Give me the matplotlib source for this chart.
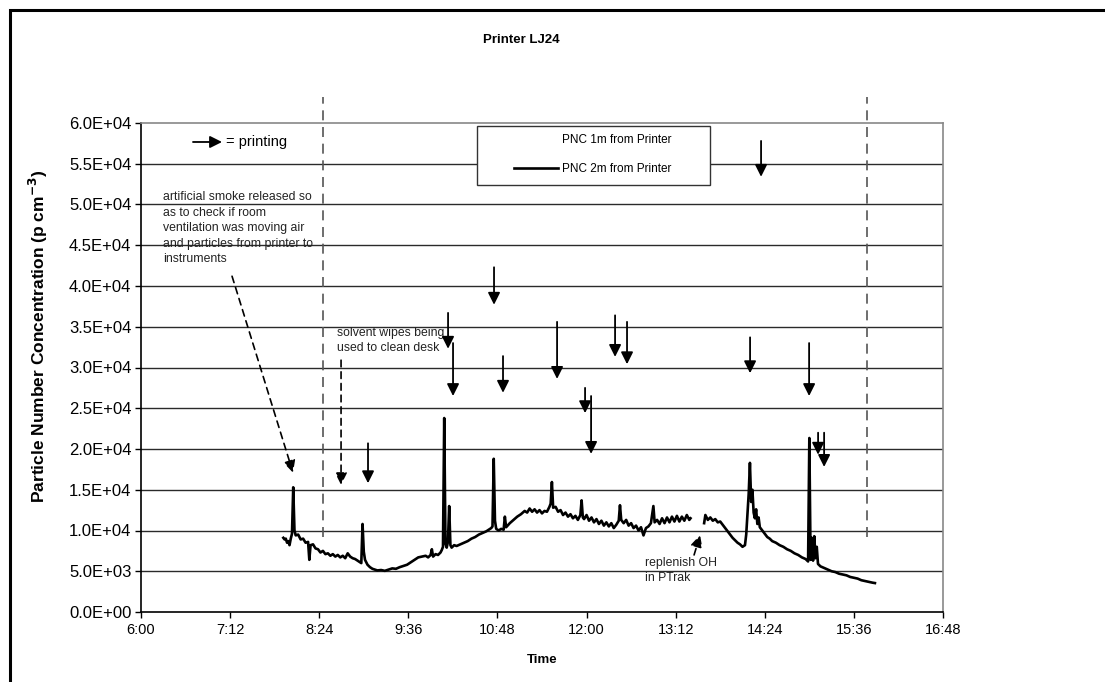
import numpy as np
import matplotlib
matplotlib.use("Agg")
import matplotlib.pyplot as plt
from matplotlib.patches import Rectangle
from matplotlib.ticker import FuncFormatter, FixedLocator

plt.rcParams['font.family'] = ['Liberation Sans', 'DejaVu Sans']

# PNC 2m from printer (time of day, particles per cm3)
pnc2_time = [
    "7:55", "7:56", "7:57", "7:58", "7:59", "8:00", "8:01", "8:02", "8:03", "8:04",
    "8:05", "8:07", "8:09", "8:11", "8:13", "8:15", "8:16", "8:17", "8:19", "8:21",
    "8:23", "8:25", "8:27", "8:29", "8:31", "8:33", "8:35", "8:37", "8:39", "8:41",
    "8:43", "8:45", "8:47", "8:49", "8:51", "8:53", "8:55", "8:57", "8:58", "8:59",
    "9:00", "9:01", "9:03", "9:05", "9:07", "9:09", "9:11", "9:14", "9:17", "9:20",
    "9:23", "9:26", "9:29", "9:32", "9:35", "9:38", "9:41", "9:44", "9:47", "9:50",
    "9:52", "9:54", "9:55", "9:56", "9:58", "10:00", "10:02", "10:03", "10:04", "10:05",
    "10:06", "10:07", "10:08", "10:09", "10:10", "10:11", "10:13", "10:15", "10:18", "10:21",
    "10:24", "10:27", "10:30", "10:33", "10:36", "10:39", "10:41", "10:43", "10:44", "10:45",
    "10:46", "10:47", "10:49", "10:51", "10:53", "10:54", "10:55", "10:58", "11:01", "11:04",
    "11:07", "11:10", "11:12", "11:14", "11:16", "11:18", "11:20", "11:22", "11:24", "11:26",
    "11:28", "11:30", "11:31", "11:32", "11:33", "11:35", "11:37", "11:39", "11:41", "11:43",
    "11:45", "11:47", "11:49", "11:51", "11:53", "11:55", "11:56", "11:57", "11:58", "12:00",
    "12:02", "12:04", "12:06", "12:08", "12:10", "12:12", "12:14", "12:16", "12:18", "12:20",
    "12:22", "12:24", "12:26", "12:27", "12:28", "12:30", "12:32", "12:34", "12:36", "12:38",
    "12:40", "12:42", "12:44", "12:46", "12:48", "12:50", "12:52", "12:54", "12:55", "12:57",
    "12:59", "13:01", "13:03", "13:05", "13:07", "13:09", "13:11", "13:13", "13:15", "13:17",
    "13:19", "13:21", "13:23", "13:24", "13:30", "13:35", "13:36", "13:38", "13:40", "13:42",
    "13:44", "13:46", "13:48", "13:50", "13:52", "13:54", "13:56", "13:58", "14:00", "14:02",
    "14:04", "14:06", "14:08", "14:09", "14:10", "14:11", "14:12", "14:13", "14:14", "14:15",
    "14:16", "14:17", "14:18", "14:19", "14:20", "14:22", "14:24", "14:26", "14:28", "14:30",
    "14:33", "14:36", "14:39", "14:42", "14:45", "14:48", "14:51", "14:54", "14:57", "14:59",
    "15:00", "15:01", "15:02", "15:03", "15:04", "15:05", "15:06", "15:07", "15:09", "15:12",
    "15:15", "15:18", "15:21", "15:24", "15:27", "15:30", "15:33", "15:36", "15:39", "15:42",
    "15:45", "15:48", "15:51", "15:53",
]
pnc2_value = [
    9100, 8900, 9000, 8500, 8700, 8200, 9000, 9600, 15300, 10000,
    9400, 9500, 8900, 9000, 8500, 8600, 6400, 8200, 8300, 7800,
    7700, 7300, 7500, 7100, 7200, 6900, 7100, 6800, 7000, 6700,
    6900, 6600, 7200, 6800, 6600, 6500, 6300, 6100, 6000, 10800,
    7400, 6400, 5800, 5500, 5300, 5200, 5100, 5150, 5050, 5200,
    5350, 5300, 5500, 5650, 5800, 6100, 6400, 6700, 6800, 6900,
    6700, 7000, 7700, 6800, 7100, 7000, 7300, 7600, 8000, 23800,
    8400, 7900, 8600, 13000, 8200, 7900, 8200, 8100, 8300, 8500,
    8700, 9000, 9200, 9500, 9700, 9900, 10100, 10300, 10500, 18800,
    11200, 10200, 10000, 10200, 10100, 11700, 10400, 10900, 11300, 11700,
    12000, 12400, 12200, 12700, 12300, 12600, 12200, 12500, 12100, 12400,
    12300, 12900, 13300, 15950, 12800, 12900, 12300, 12500, 11900, 12200,
    11700, 12000, 11500, 11800, 11300, 11900, 13700, 11600, 11400, 11900,
    11200, 11600, 11000, 11400, 10800, 11200, 10600, 11000, 10500, 10900,
    10300, 10700, 11200, 13100, 11300, 10900, 11300, 10600, 10900, 10300,
    10600, 10000, 10400, 9400, 10300, 10500, 10900, 13000, 11000, 11300,
    10800, 11500, 10900, 11600, 11000, 11700, 11100, 11800, 11100, 11700,
    11200, 11900, 11300, 11500, np.nan, 10900, 11900, 11300, 11600, 11200,
    11400, 11000, 11100, 10700, 10300, 9900, 9500, 9100, 8800, 8500,
    8300, 8000, 8200, 9500, 12000, 14500, 18300, 13500, 15000, 12200,
    11500, 12600, 10800, 11600, 10400, 10000, 9600, 9200, 9000, 8700,
    8500, 8200, 8000, 7700, 7500, 7200, 7000, 6700, 6500, 6200,
    21350, 6400, 9100, 6300, 9300, 6600, 8000, 5900, 5600, 5400,
    5200, 5000, 4900, 4700, 4600, 4500, 4300, 4200, 4100, 3900,
    3800, 3700, 3600, 3550,
]

# printing arrows: time, tail value, head value
print_time = [9.057, 10.135, 10.202, 10.754, 10.875, 11.603, 11.980, 12.061,
              12.384, 12.545, 14.202, 14.350, 14.997, 15.118, 15.199]
print_tail = [20700, 36700, 33000, 42300, 31400, 35600, 27500, 26500,
              36400, 35600, 33700, 57800, 33000, 22000, 22000]
print_head = [15800, 32300, 26500, 37700, 26900, 28600, 24400, 19400,
              31300, 30400, 29300, 53400, 26500, 19300, 17800]

# start / end of measurement period (dashed verticals)
period_time = [8.451, 15.778]
period_bottom = 9200
period_top = 63200

x_ticks = [6 + 1.2 * k for k in range(10)]
y_ticks = [5000 * k for k in range(13)]


def to_hours(s):
    h, m = s.split(":")
    return int(h) + int(m) / 60.0


def fmt_time(x, pos):
    tot = int(round(x * 60))
    return "%d:%02d" % (tot // 60, tot % 60)


t2 = np.array([to_hours(s) for s in pnc2_time])
v2 = np.array(pnc2_value, dtype=float)

fig = plt.figure(figsize=(11.05, 6.82), dpi=100)
ax = fig.add_axes([141 / 1105, 1 - 612 / 682, 802 / 1105, 489 / 682])

# outer chart frame
fig.patches.append(Rectangle((9.5 / 1105, -0.1), 1.2, 1.1 - 9.5 / 682,
                             transform=fig.transFigure, fill=False,
                             edgecolor='black', lw=2.2))

for y in y_ticks[1:-1]:
    ax.axhline(y, color='#2a2a2a', lw=1.0, zorder=1)

# PNC 1m is drawn in white (not visible), only shows in legend
ax.plot([], [], color='white', lw=1, label='PNC 1m from Printer')
ax.plot(t2, v2, color='black', lw=1.9, zorder=3, label='PNC 2m from Printer')

for xt in period_time:
    ax.plot([xt, xt], [period_bottom, period_top], color='#555555', lw=1.2,
            ls=(0, (6, 4)), clip_on=False, zorder=2)

arrow_style = '-|>,head_length=0.6,head_width=0.3'
for xt, yt, yh in zip(print_time, print_tail, print_head):
    ax.annotate('', xy=(xt, yh), xytext=(xt, yt),
                arrowprops=dict(arrowstyle=arrow_style, color='black', lw=1.3,
                                mutation_scale=12, shrinkA=0, shrinkB=0),
                zorder=4, annotation_clip=False)

# key arrow
ax.annotate('', xy=(7.091, 57670), xytext=(6.70, 57670),
            arrowprops=dict(arrowstyle=arrow_style, color='black', lw=1.3,
                            mutation_scale=12, shrinkA=0, shrinkB=0))
ax.text(7.14, 57670, '= printing', fontsize=10.5, va='center', ha='left')

# dashed note arrows
dash_props = dict(arrowstyle=arrow_style, color='black', lw=1.2, ls=(0, (4, 3)),
                  mutation_scale=12, shrinkA=0, shrinkB=0)
ax.annotate('', xy=(8.047, 17100), xytext=(7.226, 41200), arrowprops=dash_props)
ax.annotate('', xy=(8.694, 15600), xytext=(8.694, 30900), arrowprops=dash_props)
ax.annotate('', xy=(13.529, 9450), xytext=(13.448, 7000), arrowprops=dash_props)

note_kw = dict(fontsize=8.8, va='top', ha='left', linespacing=1.38, color='#222222')
ax.text(6.296, 51600, 'artificial smoke released so\nas to check if room\n'
        'ventilation was moving air\nand particles from printer to\ninstruments',
        **note_kw)
ax.text(8.640, 35000, 'solvent wipes being\nused to clean desk', **note_kw)
ax.text(12.788, 6800, 'replenish OH\nin PTrak', **note_kw)

ax.set_xlim(6, 16.8)
ax.set_ylim(0, 60000)
ax.xaxis.set_major_locator(FixedLocator(x_ticks))
ax.xaxis.set_major_formatter(FuncFormatter(fmt_time))
ax.yaxis.set_major_locator(FixedLocator(y_ticks))
ax.yaxis.set_major_formatter(FuncFormatter(lambda v, p: "%.1E" % v))
ax.tick_params(axis='y', labelsize=12, direction='out', length=4, width=1, pad=3)
ax.tick_params(axis='x', labelsize=10.5, direction='out', length=4, width=1, pad=4)

for side in ['left', 'bottom']:
    ax.spines[side].set_color('black')
    ax.spines[side].set_linewidth(1.2)
for side in ['top', 'right']:
    ax.spines[side].set_color('#888888')
    ax.spines[side].set_linewidth(1.2)

ax.set_ylabel('Particle Number Concentration (p cm$^{\\mathbf{-3}}$)',
              fontsize=12.5, fontweight='bold')
ax.yaxis.set_label_coords(-0.1135, 0.563)
ax.set_xlabel('Time', fontsize=9.5, fontweight='bold', va='top')
ax.xaxis.set_label_coords(0.5, -0.085)

fig.text(521 / 1105, 1 - 40 / 682, 'Printer LJ24', fontsize=9.5, fontweight='bold',
         ha='center', va='center')

# legend box
ax.add_patch(Rectangle((0.419, 0.8732), 0.2905, 0.1207, transform=ax.transAxes,
                       facecolor='white', edgecolor='#333333', lw=1.0, zorder=5))
leg = ax.legend(loc='upper left', bbox_to_anchor=(0.465, 0.9775), frameon=False,
                fontsize=8.5, handlelength=3.7, handletextpad=0.35,
                labelspacing=1.45, borderpad=0, borderaxespad=0)
leg.set_zorder(6)

fig.savefig('out.png', dpi=100)
